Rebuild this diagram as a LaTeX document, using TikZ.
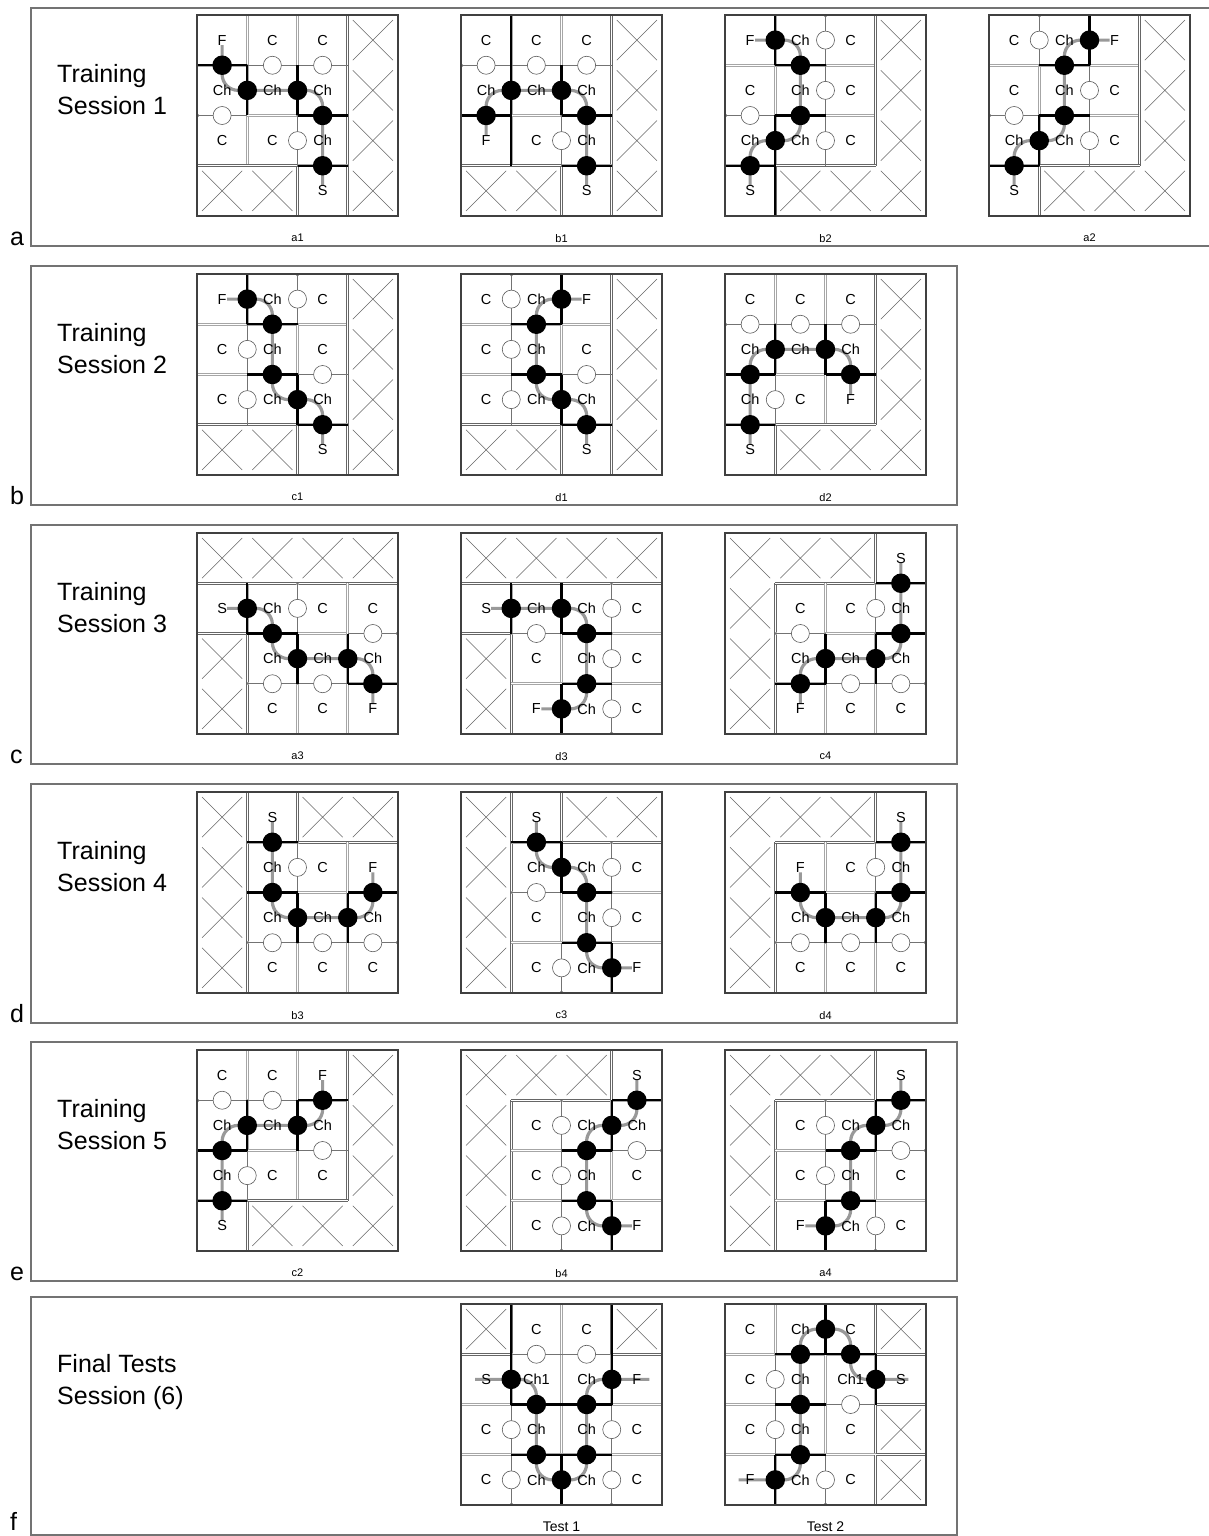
\documentclass[tikz,border=0pt]{standalone}
\usepackage{fontspec}
\setmainfont{Liberation Sans}
\usepackage{tikz}

\def\cellsz{50.25pt}

\makeatletter
\newcommand\mzisx[3]{\edef\mz@tmp{\noexpand\in@{,#1/#2,}{,#3,}}\mz@tmp}
\newcommand\mzkind[5]{%
  \mzisx{#2}{#3}{#1}\ifin@\def\mzk{1}\else\def\mzk{0}\fi
  \mzisx{#4}{#5}{#1}\ifin@\edef\mzk{\the\numexpr\mzk+1\relax}\fi}
\makeatother

% #1 id, #2 origin, #3 caption, #4 crossed cells, #5 cell texts,
% #6 open doors, #7 closed doors, #8 route, #9 extra walls
\newcommand\mazegrid[9]{%
  \begin{scope}[shift={#2}, x=\cellsz, y=-\cellsz]
    \foreach \cc in {1,2,3} {
      \foreach \rr in {0,1,2,3} {
        \pgfmathtruncatemacro\cprev{\cc-1}
        \mzkind{#4}{\cprev}{\rr}{\cc}{\rr}%
        \ifcase\mzk \draw[gwall] (\cc,\rr) -- (\cc,\rr+1);
        \or \draw[xwall] (\cc,\rr) -- (\cc,\rr+1);
        \fi
        \mzkind{#4}{\rr}{\cprev}{\rr}{\cc}%
        \ifcase\mzk \draw[gwall] (\rr,\cc) -- (\rr+1,\cc);
        \or \draw[xwall] (\rr,\cc) -- (\rr+1,\cc);
        \fi
      }
    }
    \foreach \x/\y in {#6} {
      \pgfmathsetmacro\hx{\x-floor(\x)}
      \pgfmathsetmacro\hy{0.5-\hx}
      \draw[erase] (\x-\hx,\y-\hy) -- (\x+\hx,\y+\hy);
      \draw[twall] (\x-\hx,\y-\hy) -- (\x+\hx,\y+\hy);
    }
    \foreach \x/\y in {#7} {
      \pgfmathsetmacro\hx{\x-floor(\x)}
      \pgfmathsetmacro\hy{0.5-\hx}
      \draw[bwall] (\x-\hx,\y-\hy) -- (\x+\hx,\y+\hy);
    }
    #9
    \foreach \cc/\rr in {#4}
      \draw[xline] (\cc+0.1,\rr+0.1) -- (\cc+0.9,\rr+0.9) (\cc+0.9,\rr+0.1) -- (\cc+0.1,\rr+0.9);
    \draw[route] #8;
    \foreach \x/\y in {#6} \node[wdoor] at (\x,\y) {};
    \foreach \x/\y in {#7} \node[bdoor] at (\x,\y) {};
    \foreach \cc/\rr/\txt in {#5} \node[lbl] (#1-\cc-\rr) at (\cc+0.5,\rr+0.5) {\txt};
    \node[gcap] (#1) at (2,4.44) {#3};
    \draw[gridframe] (0,0) rectangle (4,4);
  \end{scope}}

\begin{document}
\begin{tikzpicture}[x=1pt, y=-1pt,
    gwall/.style={draw=black!35, line width=0.7pt, double=white, double distance=1.3pt},
    xwall/.style={draw=black!60, line width=0.7pt, double=white, double distance=1.3pt},
    twall/.style={draw=black!55, line width=0.8pt},
    erase/.style={draw=white, line width=3.2pt, shorten <=1.6pt, shorten >=1.6pt},
    bwall/.style={draw=black, line width=2.2pt},
    xline/.style={draw=black!60, line width=0.6pt},
    route/.style={draw=black!40, line width=3.2pt, rounded corners=16pt},
    bdoor/.style={circle, fill=black, minimum size=19.5pt, inner sep=0pt},
    wdoor/.style={circle, draw=black!65, fill=white, line width=0.6pt, minimum size=18pt, inner sep=0pt},
    lbl/.style={font=\fontsize{14.5}{14.5}\selectfont, inner sep=0pt},
    gcap/.style={font=\fontsize{11}{11}\selectfont, inner sep=0pt},
    gridframe/.style={draw=black!75, line width=1.3pt},
    panelbox/.style={draw=black!55, line width=1.1pt},
    sesstitle/.style={font=\fontsize{25}{25}\selectfont, anchor=base west, inner sep=0pt}]

  \fill[white] (0,0) rectangle (1208,1536);
  \useasboundingbox (0,0) rectangle (1208,1536);

  % panels
  \draw[panelbox] (31,8) rectangle (1240,246);
  \draw[panelbox] (31,266) rectangle (957,505);
  \draw[panelbox] (31,525) rectangle (957,764);
  \draw[panelbox] (31,784) rectangle (957,1023);
  \draw[panelbox] (31,1042) rectangle (957,1281);
  \draw[panelbox] (31,1297) rectangle (957,1535);

  \node[sesstitle] (la) at (10,245) {a};
  \node[sesstitle] (lb) at (10,504) {b};
  \node[sesstitle] (lc) at (10,763) {c};
  \node[sesstitle] (ld) at (10,1022) {d};
  \node[sesstitle] (le) at (10,1280) {e};
  \node[sesstitle] (lf) at (10,1530) {f};

  \node[sesstitle] (ta1) at (57,83) {Training};
  \node[sesstitle] (ta2) at (57,115) {Session 1};
  \node[sesstitle] (tb1) at (57,341) {Training};
  \node[sesstitle] (tb2) at (57,373) {Session 2};
  \node[sesstitle] (tc1) at (57,600) {Training};
  \node[sesstitle] (tc2) at (57,632) {Session 3};
  \node[sesstitle] (td1) at (57,859) {Training};
  \node[sesstitle] (td2) at (57,891) {Session 4};
  \node[sesstitle] (te1) at (57,1117) {Training};
  \node[sesstitle] (te2) at (57,1149) {Session 5};
  \node[sesstitle] (tf1) at (57,1372) {Final Tests};
  \node[sesstitle] (tf2) at (57,1404) {Session (6)};

  % session 1
  \mazegrid{a1}{(197,15)}{a1}{0/3,1/3,3/0,3/1,3/2,3/3}
    {0/0/F,1/0/C,2/0/C,0/1/Ch,1/1/Ch,2/1/Ch,0/2/C,1/2/C,2/2/Ch,2/3/S}
    {1.5/1,2.5/1,0.5/2,2/2.5}{0.5/1,1/1.5,2/1.5,2.5/2,2.5/3}
    {(0.5,0.6) -- (0.5,1.5) -- (2.5,1.5) -- (2.5,3.4)}{}
  \mazegrid{b1}{(461,15)}{b1}{0/3,1/3,3/0,3/1,3/2,3/3}
    {0/0/C,1/0/C,2/0/C,0/1/Ch,1/1/Ch,2/1/Ch,0/2/F,1/2/C,2/2/Ch,2/3/S}
    {0.5/1,1.5/1,2.5/1,2/2.5}{1/1.5,2/1.5,0.5/2,2.5/2,2.5/3}
    {(0.5,2.4) -- (0.5,1.5) -- (2.5,1.5) -- (2.5,3.4)}
    {\draw[bwall] (1,0) -- (1,1) (1,2) -- (1,3);}
  \mazegrid{b2}{(725,15)}{b2}{3/0,3/1,3/2,3/3,1/3,2/3}
    {0/0/F,1/0/Ch,2/0/C,0/1/C,1/1/Ch,2/1/C,0/2/Ch,1/2/Ch,2/2/C,0/3/S}
    {2/0.5,2/1.5,2/2.5,0.5/2}{1/0.5,1.5/1,1.5/2,1/2.5,0.5/3}
    {(0.6,0.5) -- (1.5,0.5) -- (1.5,2.5) -- (0.5,2.5) -- (0.5,3.4)}
    {\draw[bwall] (1,3) -- (1,4);}
  \mazegrid{a2}{(989,15)}{a2}{3/0,3/1,3/2,3/3,1/3,2/3}
    {0/0/C,1/0/Ch,2/0/F,0/1/C,1/1/Ch,2/1/C,0/2/Ch,1/2/Ch,2/2/C,0/3/S}
    {1/0.5,2/1.5,2/2.5,0.5/2}{2/0.5,1.5/1,1.5/2,1/2.5,0.5/3}
    {(2.4,0.5) -- (1.5,0.5) -- (1.5,2.5) -- (0.5,2.5) -- (0.5,3.4)}{}

  % session 2
  \mazegrid{c1}{(197,274)}{c1}{0/3,1/3,3/0,3/1,3/2,3/3}
    {0/0/F,1/0/Ch,2/0/C,0/1/C,1/1/Ch,2/1/C,0/2/C,1/2/Ch,2/2/Ch,2/3/S}
    {2/0.5,1/1.5,1/2.5,2.5/2}{1/0.5,1.5/1,1.5/2,2/2.5,2.5/3}
    {(0.6,0.5) -- (1.5,0.5) -- (1.5,2.5) -- (2.5,2.5) -- (2.5,3.4)}{}
  \mazegrid{d1}{(461,274)}{d1}{0/3,1/3,3/0,3/1,3/2,3/3}
    {0/0/C,1/0/Ch,2/0/F,0/1/C,1/1/Ch,2/1/C,0/2/C,1/2/Ch,2/2/Ch,2/3/S}
    {1/0.5,1/1.5,1/2.5,2.5/2}{2/0.5,1.5/1,1.5/2,2/2.5,2.5/3}
    {(2.4,0.5) -- (1.5,0.5) -- (1.5,2.5) -- (2.5,2.5) -- (2.5,3.4)}{}
  \mazegrid{d2}{(725,274)}{d2}{3/0,3/1,3/2,3/3,1/3,2/3}
    {0/0/C,1/0/C,2/0/C,0/1/Ch,1/1/Ch,2/1/Ch,0/2/Ch,1/2/C,2/2/F,0/3/S}
    {0.5/1,1.5/1,2.5/1,1/2.5}{1/1.5,2/1.5,0.5/2,2.5/2,0.5/3}
    {(0.5,3.4) -- (0.5,1.5) -- (2.5,1.5) -- (2.5,2.4)}{}

  % session 3
  \mazegrid{a3}{(197,533)}{a3}{0/0,1/0,2/0,3/0,0/2,0/3}
    {0/1/S,1/1/Ch,2/1/C,3/1/C,1/2/Ch,2/2/Ch,3/2/Ch,1/3/C,2/3/C,3/3/F}
    {2/1.5,3.5/2,1.5/3,2.5/3}{1/1.5,1.5/2,2/2.5,3/2.5,3.5/3}
    {(0.6,1.5) -- (1.5,1.5) -- (1.5,2.5) -- (3.5,2.5) -- (3.5,3.4)}{}
  \mazegrid{d3}{(461,533)}{d3}{0/0,1/0,2/0,3/0,0/2,0/3}
    {0/1/S,1/1/Ch,2/1/Ch,3/1/C,1/2/C,2/2/Ch,3/2/C,1/3/F,2/3/Ch,3/3/C}
    {3/1.5,1.5/2,3/2.5,3/3.5}{1/1.5,2/1.5,2.5/2,2.5/3,2/3.5}
    {(0.6,1.5) -- (2.5,1.5) -- (2.5,3.5) -- (1.6,3.5)}{}
  \mazegrid{c4}{(725,533)}{c4}{0/0,1/0,2/0,0/1,0/2,0/3}
    {3/0/S,1/1/C,2/1/C,3/1/Ch,1/2/Ch,2/2/Ch,3/2/Ch,1/3/F,2/3/C,3/3/C}
    {3/1.5,1.5/2,2.5/3,3.5/3}{3.5/1,3.5/2,3/2.5,2/2.5,1.5/3}
    {(3.5,0.6) -- (3.5,2.5) -- (1.5,2.5) -- (1.5,3.4)}{}

  % session 4
  \mazegrid{b3}{(197,792)}{b3}{0/0,2/0,3/0,0/1,0/2,0/3}
    {1/0/S,1/1/Ch,2/1/C,3/1/F,1/2/Ch,2/2/Ch,3/2/Ch,1/3/C,2/3/C,3/3/C}
    {2/1.5,1.5/3,2.5/3,3.5/3}{1.5/1,1.5/2,2/2.5,3/2.5,3.5/2}
    {(1.5,0.6) -- (1.5,2.5) -- (3.5,2.5) -- (3.5,1.6)}{}
  \mazegrid{c3}{(461,792)}{c3}{0/0,2/0,3/0,0/1,0/2,0/3}
    {1/0/S,1/1/Ch,2/1/Ch,3/1/C,1/2/C,2/2/Ch,3/2/C,1/3/C,2/3/Ch,3/3/F}
    {3/1.5,1.5/2,3/2.5,2/3.5}{1.5/1,2/1.5,2.5/2,2.5/3,3/3.5}
    {(1.5,0.6) -- (1.5,1.5) -- (2.5,1.5) -- (2.5,3.5) -- (3.4,3.5)}{}
  \mazegrid{d4}{(725,792)}{d4}{0/0,1/0,2/0,0/1,0/2,0/3}
    {3/0/S,1/1/F,2/1/C,3/1/Ch,1/2/Ch,2/2/Ch,3/2/Ch,1/3/C,2/3/C,3/3/C}
    {3/1.5,1.5/3,2.5/3,3.5/3}{3.5/1,3.5/2,3/2.5,2/2.5,1.5/2}
    {(3.5,0.6) -- (3.5,2.5) -- (1.5,2.5) -- (1.5,1.6)}{}

  % session 5
  \mazegrid{c2}{(197,1050)}{c2}{3/0,3/1,3/2,3/3,1/3,2/3}
    {0/0/C,1/0/C,2/0/F,0/1/Ch,1/1/Ch,2/1/Ch,0/2/Ch,1/2/C,2/2/C,0/3/S}
    {0.5/1,1.5/1,2.5/2,1/2.5}{2.5/1,2/1.5,1/1.5,0.5/2,0.5/3}
    {(2.5,0.6) -- (2.5,1.5) -- (0.5,1.5) -- (0.5,3.4)}{}
  \mazegrid{b4}{(461,1050)}{b4}{0/0,1/0,2/0,0/1,0/2,0/3}
    {3/0/S,1/1/C,2/1/Ch,3/1/Ch,1/2/C,2/2/Ch,3/2/C,1/3/C,2/3/Ch,3/3/F}
    {2/1.5,3.5/2,2/2.5,2/3.5}{3.5/1,3/1.5,2.5/2,2.5/3,3/3.5}
    {(3.5,0.6) -- (3.5,1.5) -- (2.5,1.5) -- (2.5,3.5) -- (3.4,3.5)}{}
  \mazegrid{a4}{(725,1050)}{a4}{0/0,1/0,2/0,0/1,0/2,0/3}
    {3/0/S,1/1/C,2/1/Ch,3/1/Ch,1/2/C,2/2/Ch,3/2/C,1/3/F,2/3/Ch,3/3/C}
    {2/1.5,3.5/2,2/2.5,3/3.5}{3.5/1,3/1.5,2.5/2,2.5/3,2/3.5}
    {(3.5,0.6) -- (3.5,1.5) -- (2.5,1.5) -- (2.5,3.5) -- (1.6,3.5)}{}

  % final tests
  \mazegrid{t1}{(461,1304)}{\fontsize{14}{14}\selectfont Test 1}{0/0,3/0}
    {1/0/C,2/0/C,0/1/S,1/1/Ch1,2/1/Ch,3/1/F,0/2/C,1/2/Ch,2/2/Ch,3/2/C,0/3/C,1/3/Ch,2/3/Ch,3/3/C}
    {1.5/1,2.5/1,1/2.5,1/3.5,3/2.5,3/3.5}{1/1.5,1.5/2,1.5/3,2/3.5,2.5/3,2.5/2,3/1.5}
    {(0.28,1.5) -- (1.5,1.5) -- (1.5,3.5) -- (2.5,3.5) -- (2.5,1.5) -- (3.75,1.5)}
    {\draw[bwall] (1,0) -- (1,1) (3,0) -- (3,1);}
  \mazegrid{t2}{(725,1304)}{\fontsize{14}{14}\selectfont Test 2}{3/0,3/2,3/3}
    {0/0/C,1/0/Ch,2/0/C,0/1/C,1/1/Ch,2/1/Ch1,3/1/S,0/2/C,1/2/Ch,2/2/C,0/3/F,1/3/Ch,2/3/C}
    {1/1.5,1/2.5,2.5/2,2/3.5}{2/0.5,1.5/1,2.5/1,3/1.5,1.5/2,1.5/3,1/3.5}
    {(3.65,1.5) -- (2.5,1.5) -- (2.5,0.5) -- (1.5,0.5) -- (1.5,3.5) -- (0.27,3.5)}
    {\draw[xwall] (3,3) -- (4,3);}
\end{tikzpicture}
\end{document}
